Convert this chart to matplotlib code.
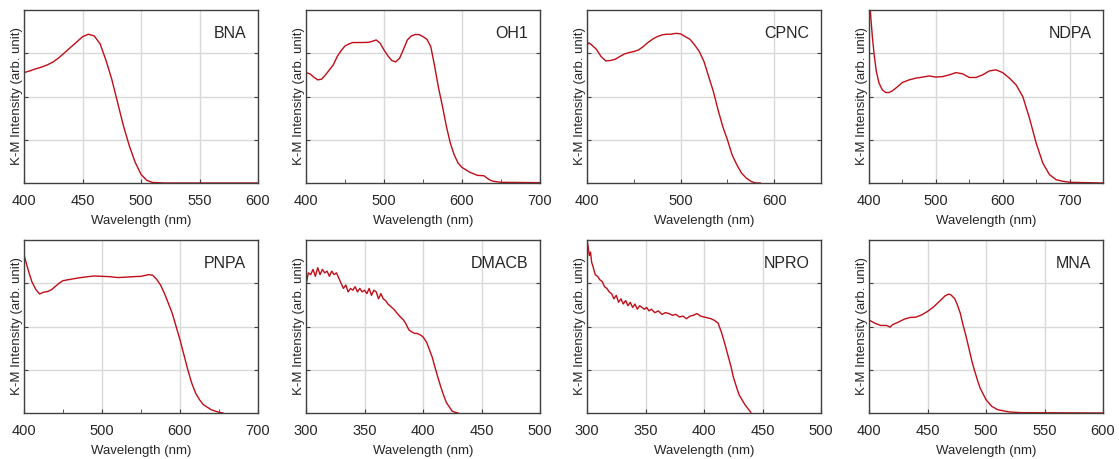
import numpy as np
import matplotlib
matplotlib.use("Agg")
import matplotlib.pyplot as plt
from matplotlib.ticker import MultipleLocator

plt.rcParams['font.family'] = ['Liberation Sans', 'DejaVu Sans']

# K-M spectra, normalised to the panel height (0 = bottom, 1 = top)
bna_x = [400, 405, 410, 415, 420, 425, 430, 435, 440, 445, 450, 455, 460, 465, 470, 475, 480, 485, 490, 495,
         500, 505, 510, 520, 600]
bna_y = [0.638, 0.648, 0.660, 0.670, 0.683, 0.700, 0.725, 0.755, 0.785, 0.815, 0.845, 0.860, 0.850, 0.805, 0.71,
         0.60, 0.465, 0.33, 0.215, 0.12, 0.05, 0.015, 0.003, 0.0, 0.0]

oh1_x = [400, 405, 410, 415, 420, 425, 430, 435, 440, 445, 450, 455, 460, 470, 480, 485, 490, 495, 500, 505,
         510, 515, 520, 525, 530, 535, 540, 545, 550, 555, 560, 565, 570, 575, 580, 585, 590, 595, 600, 610,
         620, 628, 635, 640, 650, 700]
oh1_y = [0.638, 0.631, 0.612, 0.596, 0.600, 0.625, 0.654, 0.683, 0.731, 0.765, 0.792, 0.804, 0.812, 0.812, 0.813,
         0.819, 0.827, 0.808, 0.769, 0.735, 0.708, 0.700, 0.721, 0.773, 0.827, 0.850, 0.858, 0.858, 0.846, 0.831,
         0.788, 0.673, 0.548, 0.442, 0.327, 0.231, 0.163, 0.115, 0.090, 0.062, 0.044, 0.042, 0.019, 0.010, 0.004,
         0.002]

cpnc_x = [400, 402, 405, 410, 415, 420, 425, 430, 435, 440, 445, 450, 455, 460, 465, 470, 475, 480, 485, 490,
          495, 500, 505, 510, 515, 520, 525, 530, 535, 540, 545, 550, 555, 560, 565, 570, 575, 580, 585]
cpnc_y = [0.798, 0.81, 0.798, 0.773, 0.731, 0.706, 0.708, 0.715, 0.731, 0.746, 0.754, 0.76, 0.769, 0.788, 0.812,
          0.831, 0.846, 0.856, 0.86, 0.86, 0.865, 0.862, 0.846, 0.831, 0.798, 0.76, 0.702, 0.615, 0.529, 0.423,
          0.327, 0.25, 0.163, 0.106, 0.058, 0.029, 0.01, 0.0, 0.0]

ndpa_x = [401, 403, 405, 408, 411, 415, 420, 425, 430, 435, 440, 450, 460, 470, 480, 490, 500, 510, 520, 530,
          540, 550, 560, 570, 580, 590, 600, 610, 620, 630, 640, 650, 660, 670, 680, 690, 700, 750]
ndpa_y = [1.05, 0.942, 0.846, 0.731, 0.644, 0.577, 0.538, 0.523, 0.523, 0.533, 0.548, 0.581, 0.596, 0.606, 0.612,
          0.619, 0.612, 0.615, 0.625, 0.638, 0.631, 0.61, 0.61, 0.625, 0.648, 0.654, 0.638, 0.606, 0.567, 0.5,
          0.375, 0.231, 0.115, 0.048, 0.019, 0.01, 0.004, 0.0]

pnpa_x = [400, 403, 406, 410, 415, 420, 425, 430, 435, 440, 445, 450, 460, 470, 480, 490, 500, 510, 520, 530,
          540, 550, 560, 565, 570, 575, 580, 585, 590, 595, 600, 605, 610, 615, 620, 625, 630, 640, 650, 655]
pnpa_y = [0.913, 0.865, 0.817, 0.76, 0.715, 0.688, 0.698, 0.702, 0.712, 0.731, 0.75, 0.765, 0.773, 0.781, 0.787,
          0.792, 0.79, 0.788, 0.783, 0.785, 0.788, 0.79, 0.80, 0.796, 0.773, 0.74, 0.692, 0.635, 0.577, 0.5,
          0.423, 0.337, 0.25, 0.173, 0.115, 0.077, 0.048, 0.019, 0.004, 0.0]

dmacb_x = [300, 302, 304, 306, 308, 310, 312, 314, 316, 318, 320, 322, 324, 326, 328, 330, 332, 334, 336, 338,
           340, 342, 344, 346, 348, 350, 352, 354, 356, 358, 360, 362, 364, 366, 368, 370, 375, 380, 383, 385,
           388, 390, 393, 395, 398, 400, 403, 405, 408, 410, 413, 415, 418, 420, 423, 425, 428, 430]
dmacb_y = [0.74, 0.81, 0.80, 0.83, 0.79, 0.84, 0.80, 0.83, 0.81, 0.82, 0.79, 0.82, 0.80, 0.81, 0.78, 0.75, 0.72,
           0.74, 0.70, 0.72, 0.71, 0.73, 0.70, 0.72, 0.70, 0.71, 0.69, 0.72, 0.68, 0.71, 0.70, 0.66, 0.69, 0.66,
           0.65, 0.63, 0.60, 0.56, 0.54, 0.52, 0.48, 0.47, 0.46, 0.46, 0.45, 0.44, 0.41, 0.375, 0.32, 0.27, 0.20,
           0.155, 0.095, 0.06, 0.03, 0.01, 0.003, 0.0]

npro_x = [300, 301, 302, 303, 304, 305, 307, 309, 311, 313, 315, 317, 319, 321, 323, 325, 327, 329, 331, 333,
          335, 337, 339, 341, 343, 345, 347, 349, 351, 353, 355, 358, 361, 364, 367, 370, 373, 376, 379, 382,
          385, 388, 391, 394, 397, 400, 403, 406, 409, 412, 415, 418, 420, 423, 425, 428, 430, 435, 440]
npro_y = [1.0, 0.96, 0.91, 0.93, 0.87, 0.85, 0.80, 0.79, 0.77, 0.76, 0.73, 0.72, 0.70, 0.69, 0.66, 0.68, 0.64,
          0.66, 0.63, 0.65, 0.62, 0.64, 0.61, 0.63, 0.60, 0.62, 0.61, 0.60, 0.61, 0.59, 0.60, 0.58, 0.59, 0.57,
          0.58, 0.575, 0.565, 0.57, 0.555, 0.56, 0.545, 0.56, 0.565, 0.575, 0.56, 0.555, 0.55, 0.545, 0.535,
          0.52, 0.465, 0.395, 0.345, 0.27, 0.21, 0.145, 0.105, 0.048, 0.004]

mna_x = [400, 405, 410, 415, 418, 420, 425, 430, 435, 440, 445, 450, 455, 460, 465, 468, 470, 473, 475, 478,
         480, 483, 485, 488, 490, 493, 495, 500, 505, 510, 520, 530, 600]
mna_y = [0.538, 0.519, 0.506, 0.506, 0.496, 0.51, 0.525, 0.542, 0.552, 0.554, 0.567, 0.587, 0.612, 0.644, 0.677,
         0.687, 0.683, 0.663, 0.635, 0.577, 0.519, 0.442, 0.385, 0.298, 0.25, 0.183, 0.144, 0.077, 0.038, 0.019,
         0.006, 0.002, 0.0]

names = ['BNA', 'OH1', 'CPNC', 'NDPA', 'PNPA', 'DMACB', 'NPRO', 'MNA']
xs = [bna_x, oh1_x, cpnc_x, ndpa_x, pnpa_x, dmacb_x, npro_x, mna_x]
ys = [bna_y, oh1_y, cpnc_y, ndpa_y, pnpa_y, dmacb_y, npro_y, mna_y]
xlims = [(400, 600), (400, 700), (400, 650), (400, 750), (400, 700), (300, 500), (300, 500), (400, 600)]
major = [50, 100, 100, 100, 100, 50, 50, 50]

W, H = 1119, 459
fig = plt.figure(figsize=(W / 100, H / 100), dpi=100)
lefts = [24, 306, 587, 869]
tops = [10, 240]
aw, ah = 234, 173
txt = '#262626'

for i in range(8):
    r, c = divmod(i, 4)
    ax = fig.add_axes([lefts[c] / W, 1 - (tops[r] + ah) / H, aw / W, ah / H])
    ax.plot(xs[i], ys[i], color='#c00d18', lw=1.0)
    ax.set_xlim(*xlims[i])
    ax.set_ylim(0, 1)
    ax.xaxis.set_major_locator(MultipleLocator(major[i]))
    if major[i] == 100:
        ax.xaxis.set_minor_locator(MultipleLocator(50))
    ax.set_yticks([0.25, 0.5, 0.75])
    ax.set_yticklabels([])
    ax.grid(True, color='#d9d9d9', lw=1.0)
    ax.set_axisbelow(True)
    ax.tick_params(axis='both', which='both', direction='in', length=3, color='#404040',
                   labelsize=10.5, pad=8, right=True, labelcolor=txt)
    for s in ax.spines.values():
        s.set_color('#404040')
        s.set_linewidth(1.0)
    ax.set_xlabel('Wavelength (nm)', fontsize=9.5, labelpad=5, color=txt)
    ax.set_ylabel('K-M Intensity (arb. unit)', fontsize=9.5, labelpad=-7, color=txt)
    ax.text(0.95, 0.865, names[i], transform=ax.transAxes, ha='right', va='center', fontsize=11.5, color=txt)

fig.savefig('out.png', dpi=100)
